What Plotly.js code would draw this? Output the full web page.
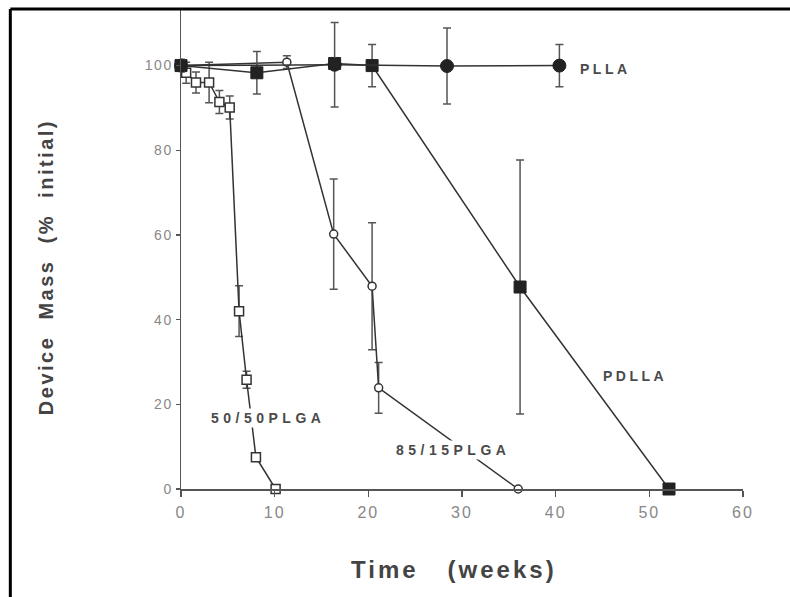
<!DOCTYPE html>
<html>
<head>
<meta charset="utf-8">
<script src="https://cdn.plot.ly/plotly-3.0.1.min.js"></script>
<style>
  html, body { margin: 0; padding: 0; background: #fff; }
  #chart { width: 790px; height: 597px; }
</style>
</head>
<body>
<div id="chart"></div>
<script>
// ---- data ----
const pllaWeeks   = [0, 16.4, 28.4, 40.4];
const pllaMass    = [100, 100.2, 99.9, 100];
const pllaErr     = [1.5, 10, 9, 5];

const pdllaWeeks  = [0, 8.1, 16.4, 20.4, 36.2, 52.1];
const pdllaMass   = [100, 98.3, 100.5, 100, 47.7, 0];
const pdllaErr    = [0, 5, 0, 5, 30, 0];

const plga8515Weeks = [0, 11.3, 16.3, 20.4, 21.1, 36.0];
const plga8515Mass  = [100, 100.8, 60.2, 47.9, 23.9, 0];
const plga8515Err   = [0, 1.5, 13, 15, 6, 0];

const plga5050Weeks = [0, 0.55, 1.6, 3.0, 4.1, 5.2, 6.2, 7.0, 8.0, 10.1];
const plga5050Mass  = [100, 98.3, 96.0, 96.0, 91.4, 90.1, 42.0, 25.8, 7.5, 0];
const plga5050Err   = [0, 2.5, 2.5, 4.8, 2.7, 2.7, 6, 2, 0, 0];

const xTicks = [0, 10, 20, 30, 40, 50, 60];
const yTicks = [0, 20, 40, 60, 80, 100];

const seriesLabels = [
  {text: 'PLLA',      x: 45.3, y: 99.2, sp: 3.5},
  {text: 'PDLLA',     x: 48.5, y: 26.8, sp: 3.5},
  {text: '85/15PLGA', x: 29.0, y: 9.3,  sp: 4.5},
  {text: '50/50PLGA', x: 9.3,  y: 16.8, sp: 4.5}
];

// ---- styling ----
const ink = '#333';
const errStyle = (arr) => ({type: 'data', array: arr, visible: true, color: '#555', thickness: 1.5, width: 4});
const ls = (t, sp) => '<span style="letter-spacing:' + sp + 'px">' + t + '</span>';

const traces = [
  {x: plga5050Weeks, y: plga5050Mass, error_y: errStyle(plga5050Err), mode: 'lines+markers',
   line: {color: ink, width: 1.5},
   marker: {symbol: 'square', size: 9, color: '#fff', line: {color: ink, width: 1.5}}, cliponaxis: false},
  {x: plga8515Weeks, y: plga8515Mass, error_y: errStyle(plga8515Err), mode: 'lines+markers',
   line: {color: ink, width: 1.5},
   marker: {symbol: 'circle', size: 8, color: '#fff', line: {color: ink, width: 1.5}}, cliponaxis: false},
  {x: pdllaWeeks, y: pdllaMass, error_y: errStyle(pdllaErr), mode: 'lines+markers',
   line: {color: ink, width: 1.5},
   marker: {symbol: 'square', size: 12, color: '#222', line: {color: '#222', width: 1}}, cliponaxis: false},
  {x: pllaWeeks, y: pllaMass, error_y: errStyle(pllaErr), mode: 'lines+markers',
   line: {color: ink, width: 1.5},
   marker: {symbol: 'circle', size: 13, color: '#222', line: {color: '#222', width: 1}}, cliponaxis: false}
];

const annotations = seriesLabels.map(l => ({
  xref: 'x', yref: 'y', x: l.x, y: l.y, text: ls(l.text, l.sp), showarrow: false,
  bgcolor: '#fff', borderpad: 1,
  font: {family: 'Liberation Sans, Arial, sans-serif', size: 14, color: '#4a4a4a', weight: 'bold'}
}));

annotations.push({
  xref: 'paper', yref: 'paper', x: 0.485, y: -0.2, showarrow: false,
  text: ls('Time&nbsp;&nbsp;&nbsp;(weeks)', 3),
  font: {family: 'Liberation Sans, Arial, sans-serif', size: 24, color: '#444', weight: 'bold'}
});
annotations.push({
  xref: 'paper', yref: 'paper', x: -0.2644, y: 0.462, showarrow: false, textangle: -90,
  text: ls('Device&nbsp;&nbsp;Mass&nbsp;&nbsp;(%&nbsp;&nbsp;initial)', 2.5),
  font: {family: 'Liberation Sans, Arial, sans-serif', size: 20, color: '#444', weight: 'bold'}
});

const layout = {
  width: 790, height: 597,
  margin: {l: 181, r: 47, t: 8, b: 108},
  paper_bgcolor: '#fff', plot_bgcolor: '#fff',
  showlegend: false,
  xaxis: {
    range: [0, 60], tickvals: xTicks, ticktext: xTicks.map(v => ls(String(v), 2)),
    showgrid: false, zeroline: false, showline: true, linecolor: '#555', linewidth: 1.5,
    ticks: 'outside', ticklen: 6, tickwidth: 1.5, tickcolor: '#555', ticklabelstandoff: 2,
    tickfont: {family: 'Liberation Sans, Arial, sans-serif', size: 16, color: '#888'}
  },
  yaxis: {
    range: [0, 113.6], tickvals: yTicks, ticktext: yTicks.map(v => ls(String(v), 1.5)),
    showgrid: false, zeroline: false, showline: true, linecolor: '#555', linewidth: 1.5,
    ticks: 'outside', ticklen: 4, tickwidth: 1.5, tickcolor: '#555', ticklabelstandoff: 0,
    tickfont: {family: 'Liberation Sans, Arial, sans-serif', size: 14, color: '#888'}
  },
  annotations: annotations,
  shapes: [
    {type: 'line', xref: 'paper', yref: 'paper', x0: -0.3037, x1: 1.2, y0: 0.998, y1: 0.998, line: {color: '#000', width: 3}},
    {type: 'line', xref: 'paper', yref: 'paper', x0: -0.3037, x1: -0.3037, y0: 0.998, y1: -0.3, line: {color: '#000', width: 3}}
  ]
};

Plotly.newPlot('chart', traces, layout, {staticPlot: true, displayModeBar: false});
</script>
</body>
</html>
